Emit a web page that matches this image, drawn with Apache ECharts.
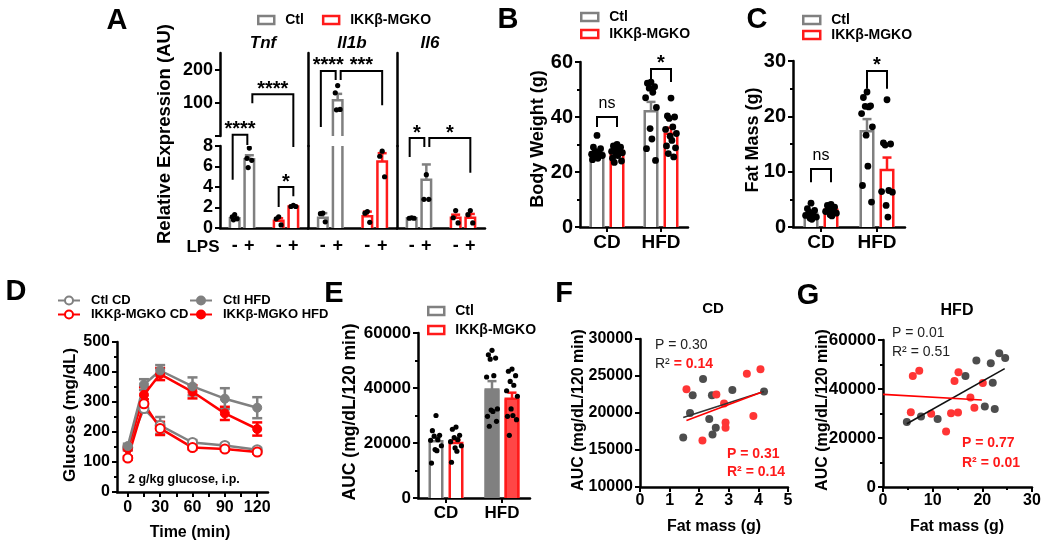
<!DOCTYPE html>
<html><head><meta charset="utf-8">
<script src="https://cdn.jsdelivr.net/npm/echarts@6/dist/echarts.min.js"></script>
<style>html,body{margin:0;padding:0;background:#fff}#c{width:1050px;height:545px}</style>
</head><body><div id="c"></div>
<script>
// ================= DATA =================
// Panel A (positions on LPS axis: Ctl -> 1,2 ; KO -> 4,5)
const lpsLabels = ['', '-', '+', '', '-', '+', ''];
const ctlPos = [1, 2], koPos = [4, 5];
const tnfCtlMean = [0.95, 6.7], tnfCtlSem = [0.12, 0.4];
const tnfKoMean = [0.7, 2.1], tnfKoSem = [0.25, 0.08];
const tnfCtlDots = [[1.3, 1.1, 0.9, 0.8], [7.8, 6.8, 6.6, 5.9]];
const tnfKoDots = [[1.1, 0.9, 0.3], [2.2, 2.1, 2.1]];
const il1bCtlMean = [1.0, 108], il1bCtlSem = [0.45, 19];
const il1bKoMean = [1.15, 6.5], il1bKoSem = [0.45, 0.8];
const il1bCtlDots = [[1.45, 1.4, 0.6], [152, 130, 80, 79]];
const il1bKoDots = [[1.6, 1.45, 0.55], [7.5, 7.0, 5.0]];
const il6CtlMean = [0.95, 4.7], il6CtlSem = [0.05, 1.5];
const il6KoMean = [1.0, 1.0], il6KoSem = [0.3, 0.37];
const il6CtlDots = [[1.0, 0.95, 0.95], [5.2, 2.8, 2.8]];
const il6KoDots = [[1.7, 1.0, 0.5], [1.7, 1.3, 0.5]];
// significance brackets: [leftPos, rightPos, top, leftEnd, rightEnd]
const tnfBrLow = [[1, 2, 9.1, 4.7, 8.1], [4, 5, 4.0, 2.05, 3.1]], tnfStarsLow = ['****', '*'];
const tnfBrUp = [[2, 5, 126, 99, -33]], tnfStarsUp = ['****'];
const il1bBrUp = [[1, 2, 196, 27, 169], [2, 5, 196, 169, 93]], il1bStarsUp = ['****', '***'];
const il6BrLow = [[1, 2, 8.78, 6.93, 7.9], [2, 5, 8.78, 7.9, 5.4]], il6StarsLow = ['*', '*'];

// Panel B: body weight
const dietCats = ['CD', 'HFD'];
const bwCtlMean = [27.0, 42.1], bwCtlSem = [1.0, 3.4];
const bwKoMean = [27.6, 33.9], bwKoSem = [0.8, 2.2];
const bwCtlDots = [[33.3, 29.0, 28.5, 27.5, 27.0, 26.5, 26.0, 25.5, 25.0, 24.5],
                   [52.7, 52.3, 51.0, 50.5, 49.0, 47.0, 43.5, 35.8, 32.0, 28.5, 24.2]];
const bwKoDots = [[30.0, 29.5, 29.0, 28.5, 28.0, 27.5, 27.0, 26.5, 26.0, 25.0, 24.0, 23.5],
                  [46.9, 40.4, 40.0, 39.5, 36.4, 35.5, 34.0, 33.0, 31.5, 29.5, 28.8, 26.7, 25.5]];
const bwBr = [[0, 40, 36.4, 36.4], [1, 57.5, 52.7, 52.7]], bwBrLab = ['ns', '*'];

// Panel C: fat mass
const fmCtlMean = [2.4, 17.3], fmCtlSem = [0.4, 2.2];
const fmKoMean = [3.1, 10.3], fmKoSem = [0.35, 2.25];
const fmCtlDots = [[4.3, 3.3, 3.0, 2.7, 2.4, 2.1, 1.8, 1.6, 1.4],
                   [24.4, 23.4, 21.9, 21.8, 21.7, 20.5, 18.1, 16.6, 11.0, 7.5, 4.5]];
const fmKoDots = [[4.1, 3.9, 3.6, 3.3, 3.1, 2.8, 2.5, 2.2, 2.0],
                  [23.0, 15.2, 15.0, 14.8, 6.6, 6.4, 6.3, 3.9, 1.8]];
const fmBr = [[0, 10.5, 8.1, 8.1], [1, 28.2, 25.0, 25.0]], fmBrLab = ['ns', '*'];

// Panel D: GTT
const gttTimes = [0, 15, 30, 60, 90, 120];
const ctlCd = [148, 278, 222, 165, 155, 141], ctlCdSem = [8, 12, 28, 8, 6, 6];
const koCd = [113, 294, 212, 148, 143, 133], koCdSem = [6, 15, 22, 6, 6, 5];
const ctlHfd = [153, 358, 405, 352, 311, 281], ctlHfdSem = [8, 18, 18, 30, 35, 35];
const koHfd = [145, 324, 393, 334, 262, 210], koHfdSem = [6, 25, 20, 22, 22, 22];

// Panel E: AUC
const aucCtlMean = [20600, 39500], aucCtlSem = [1400, 3000];
const aucKoMean = [20000, 36100], aucKoSem = [1100, 2200];
const aucCtlDots = [[30000, 24500, 22800, 22500, 21200, 21000, 19000, 17600, 17200, 12700],
                    [53700, 52100, 50900, 50500, 44500, 44000, 32400, 32000, 31500, 29700, 27900, 26100]];
const aucKoDots = [[25800, 25000, 22800, 22000, 21200, 20500, 19000, 18200, 17000, 13000],
                   [46900, 46100, 44500, 42400, 41000, 39000, 37000, 32400, 30000, 29700, 28500, 22800]];

// Panel F: CD correlation
const fCtlX = [1.46, 1.69, 1.78, 2.13, 2.34, 2.43, 2.45, 2.56, 3.12, 4.19];
const fCtlY = [16700, 20000, 22400, 24600, 19200, 22400, 17100, 18000, 23100, 22900];
const fKoX = [1.57, 2.11, 2.58, 2.84, 2.89, 2.89, 3.61, 3.83, 4.07];
const fKoY = [23200, 16300, 22500, 21300, 18700, 18000, 25300, 19600, 25900];
const fCtlFit = [[1.46, 19400], [4.19, 22900]];
const fKoFit = [[1.57, 19000], [4.1, 22800]];

// Panel G: HFD correlation
const gCtlX = [4.8, 7.65, 11.0, 16.6, 18.8, 20.5, 21.7, 22.1, 22.5, 23.4, 24.6];
const gCtlY = [26500, 28800, 27800, 45300, 51600, 32900, 50500, 42600, 31800, 54600, 52700];
const gKoX = [5.6, 6.0, 7.3, 9.7, 12.7, 13.7, 14.4, 15.1, 15.2, 17.6, 18.4, 20.1];
const gKoY = [30500, 45300, 47500, 29900, 22700, 30100, 43300, 30400, 46800, 36500, 32300, 42400];
const gCtlFit = [[4.8, 25800], [24.5, 48300]];
const gKoFit = [[0, 37800], [19.9, 35500]];

// ================= STYLE =================
const FF = 'Liberation Sans';
const FCSS = '"Liberation Sans", Arial, sans-serif';
const GRAY = '#808080', RED = '#ff1a1a', FILLRED = '#ff4646';
const DOTG = '#4d4d4d', DOTR = '#ff3535';
const SIDE = 10;
const JIT = [0, -0.6, 0.6, -0.3, 0.3, -0.9, 0.9, -0.15, 0.15, -0.75, 0.75, -0.45, 0.45];
const A_LOW_MAX = 8;

function barRender(color, fillFn, barW, capW) {
  return function (params, api) {
    const cat = api.value(0), mean = api.value(1), sem = api.value(2), side = api.value(3);
    const base = api.coord([cat, 0]);
    const top = api.coord([cat, mean]);
    const et = api.coord([cat, mean + sem]);
    const x = top[0] + side * SIDE, h = barW / 2, lw = 2.5;
    const fill = fillFn(cat);
    return { type: 'group', children: [
      { type: 'rect', shape: { x: x - h, y: top[1], width: barW, height: base[1] - top[1] }, style: { fill: fill, stroke: null } },
      { type: 'line', shape: { x1: x, y1: top[1], x2: x, y2: et[1] }, style: { stroke: color, lineWidth: lw } },
      { type: 'line', shape: { x1: x - capW / 2, y1: et[1], x2: x + capW / 2, y2: et[1] }, style: { stroke: color, lineWidth: lw } },
      { type: 'polyline', shape: { points: [[x - h + lw / 2, base[1]], [x - h + lw / 2, top[1]], [x + h - lw / 2, top[1]], [x + h - lw / 2, base[1]]] }, style: { stroke: color, lineWidth: lw, fill: null } }
    ] };
  };
}
function dotRender(color, r, spread) {
  return function (params, api) {
    const c = api.coord([api.value(0), api.value(1)]);
    const x = c[0] + api.value(2) * SIDE + JIT[api.value(3) % JIT.length] * spread;
    return { type: 'circle', shape: { cx: x, cy: c[1], r: r }, style: { fill: color } };
  };
}
function bracketRender(labels) {
  return function (params, api) {
    const xl = api.value(0), xr = api.value(1), yt = api.value(2), yl = api.value(3), yr = api.value(4);
    const sl = api.value(5), sr = api.value(6);
    const pL = api.coord([xl, yt]), pR = api.coord([xr, yt]);
    let nl = 0, nr = 0;
    if (sl === 0) { if (xl === 2) nl = 3; if (xr === 2) nr = -2; if (xl === 1) nl = -2; }
    const x1 = pL[0] + sl * SIDE + nl, x2 = pR[0] + sr * SIDE + nr;
    const y0 = pL[1], y1 = api.coord([xl, yl])[1], y2 = api.coord([xr, yr])[1];
    const lab = labels[params.dataIndex];
    const star = lab[0] === '*';
    return { type: 'group', children: [
      { type: 'polyline', shape: { points: [[x1, y1], [x1, y0], [x2, y0], [x2, y2]] }, style: { stroke: '#000', lineWidth: 2, fill: null } },
      { type: 'text', x: (x1 + x2) / 2, y: star ? y0 + 5 : y0 - 5,
        style: { text: lab, fill: '#000', font: star ? 'bold 20px ' + FCSS : '16px ' + FCSS, align: 'center', verticalAlign: 'bottom', textAlign: 'center', textVerticalAlign: 'bottom' } }
    ] };
  };
}
function errRender(color) {
  return function (params, api) {
    const t = api.value(0), m = api.value(1), s = api.value(2);
    const a = api.coord([t, m + s]), b = api.coord([t, m - s]);
    const w = 5;
    return { type: 'group', children: [
      { type: 'line', shape: { x1: a[0], y1: a[1], x2: b[0], y2: b[1] }, style: { stroke: color, lineWidth: 2.5 } },
      { type: 'line', shape: { x1: a[0] - w, y1: a[1], x2: a[0] + w, y2: a[1] }, style: { stroke: color, lineWidth: 2.5 } },
      { type: 'line', shape: { x1: b[0] - w, y1: b[1], x2: b[0] + w, y2: b[1] }, style: { stroke: color, lineWidth: 2.5 } }
    ] };
  };
}

const series = [];
function addBars(name, grid, pos, means, sems, side, color, fillFn, barW, filterFn) {
  const data = [];
  means.forEach((m, i) => { if (!filterFn || filterFn(m)) data.push([pos[i], m, sems[i], side]); });
  if (!data.length) return;
  series.push({ type: 'custom', name: name, xAxisIndex: grid, yAxisIndex: grid, clip: true, z: 2, silent: true,
    renderItem: barRender(color, fillFn, barW, 9), data: data });
}
function addDots(name, grid, pos, dots, side, r, spread, filterFn) {
  const data = [];
  dots.forEach((arr, i) => arr.forEach((v, k) => { if (!filterFn || filterFn(v)) data.push([pos[i], v, side, k]); }));
  if (!data.length) return;
  series.push({ type: 'custom', name: name, xAxisIndex: grid, yAxisIndex: grid, clip: true, z: 4, silent: true,
    renderItem: dotRender('#000', r, spread), data: data });
}
function addBrackets(grid, br, labels) {
  series.push({ type: 'custom', xAxisIndex: grid, yAxisIndex: grid, clip: false, z: 5, silent: true,
    renderItem: bracketRender(labels), data: br });
}
const white = () => '#fff';

// ---- Panel A
const genes = [
  { low: 0, up: 1, cm: tnfCtlMean, cs: tnfCtlSem, km: tnfKoMean, ks: tnfKoSem, cd: tnfCtlDots, kd: tnfKoDots },
  { low: 2, up: 3, cm: il1bCtlMean, cs: il1bCtlSem, km: il1bKoMean, ks: il1bKoSem, cd: il1bCtlDots, kd: il1bKoDots },
  { low: 4, up: 5, cm: il6CtlMean, cs: il6CtlSem, km: il6KoMean, ks: il6KoSem, cd: il6CtlDots, kd: il6KoDots }
];
const high = v => v > A_LOW_MAX;
genes.forEach(g => {
  addBars('Ctl', g.low, ctlPos, g.cm, g.cs, 0, GRAY, white, 12);
  addBars('IKKβ-MGKO', g.low, koPos, g.km, g.ks, 0, RED, white, 12);
  addBars('Ctl', g.up, ctlPos, g.cm, g.cs, 0, GRAY, white, 12, high);
  addBars('IKKβ-MGKO', g.up, koPos, g.km, g.ks, 0, RED, white, 12, high);
  addDots('Ctl', g.low, ctlPos, g.cd, 0, 2.6, 4);
  addDots('IKKβ-MGKO', g.low, koPos, g.kd, 0, 2.6, 4);
  addDots('Ctl', g.up, ctlPos, g.cd, 0, 2.6, 4, high);
  addDots('IKKβ-MGKO', g.up, koPos, g.kd, 0, 2.6, 4, high);
});
const side7 = b => b.map(r => r.concat([0, 0]));
addBrackets(0, side7(tnfBrLow), tnfStarsLow);
addBrackets(1, side7(tnfBrUp), tnfStarsUp);
addBrackets(3, side7(il1bBrUp), il1bStarsUp);
addBrackets(4, side7(il6BrLow), il6StarsLow);

// ---- Panels B, C, E
const twoCat = [0, 1];
const pairBr = b => b.map(r => [r[0], r[0], r[1], r[2], r[3], -1, 1]);
addBars('Ctl', 6, twoCat, bwCtlMean, bwCtlSem, -1, GRAY, white, 15);
addBars('IKKβ-MGKO', 6, twoCat, bwKoMean, bwKoSem, 1, RED, white, 15);
addDots('Ctl', 6, twoCat, bwCtlDots, -1, 3.4, 6);
addDots('IKKβ-MGKO', 6, twoCat, bwKoDots, 1, 3.4, 6);
addBrackets(6, pairBr(bwBr), bwBrLab);

addBars('Ctl', 7, twoCat, fmCtlMean, fmCtlSem, -1, GRAY, white, 15);
addBars('IKKβ-MGKO', 7, twoCat, fmKoMean, fmKoSem, 1, RED, white, 15);
addDots('Ctl', 7, twoCat, fmCtlDots, -1, 3.4, 6);
addDots('IKKβ-MGKO', 7, twoCat, fmKoDots, 1, 3.4, 6);
addBrackets(7, pairBr(fmBr), fmBrLab);

addBars('Ctl', 9, twoCat, aucCtlMean, aucCtlSem, -1, GRAY, c => c === 1 ? GRAY : '#fff', 15);
addBars('IKKβ-MGKO', 9, twoCat, aucKoMean, aucKoSem, 1, RED, c => c === 1 ? FILLRED : '#fff', 15);
addDots('Ctl', 9, twoCat, aucCtlDots, -1, 2.6, 6);
addDots('IKKβ-MGKO', 9, twoCat, aucKoDots, 1, 2.6, 6);

// ---- Panel D
function gttLine(name, vals, sems, color, open) {
  series.push({ type: 'custom', xAxisIndex: 8, yAxisIndex: 8, z: 2, silent: true, renderItem: errRender(color),
    data: gttTimes.map((t, i) => [t, vals[i], sems[i]]) });
  series.push({ type: 'line', name: name, xAxisIndex: 8, yAxisIndex: 8, z: 3, silent: true,
    data: gttTimes.map((t, i) => [t, vals[i]]),
    symbol: 'circle', symbolSize: 9,
    lineStyle: { color: color, width: 2.5 },
    itemStyle: open ? { color: '#fff', borderColor: color, borderWidth: 2 } : { color: color, borderColor: color, borderWidth: 1 } });
}
gttLine('Ctl CD', ctlCd, ctlCdSem, GRAY, true);
gttLine('IKKβ-MGKO CD', koCd, koCdSem, '#ff0000', true);
gttLine('IKKβ-MGKO HFD', koHfd, koHfdSem, '#ff0000', false);
gttLine('Ctl HFD', ctlHfd, ctlHfdSem, GRAY, false);

// ---- Panels F, G
function scat(grid, xs, ys, color) {
  series.push({ type: 'scatter', xAxisIndex: grid, yAxisIndex: grid, symbolSize: 8, silent: true, z: 3,
    itemStyle: { color: color, opacity: 1 }, data: xs.map((x, i) => [x, ys[i]]) });
}
function fit(grid, pts, color) {
  series.push({ type: 'line', xAxisIndex: grid, yAxisIndex: grid, symbol: 'none', silent: true, z: 4,
    lineStyle: { color: color, width: 1.6 }, data: pts });
}
scat(10, fCtlX, fCtlY, DOTG); scat(10, fKoX, fKoY, DOTR);
fit(10, fCtlFit, '#333'); fit(10, fKoFit, '#ff0000');
scat(11, gCtlX, gCtlY, DOTG); scat(11, gKoX, gKoY, DOTR);
fit(11, gCtlFit, '#111'); fit(11, gKoFit, '#ff0000');

// ================= AXES =================
const grids = [
  { left: 220, top: 146, width: 88, height: 82 },
  { left: 220, top: 53, width: 88, height: 83 },
  { left: 308, top: 146, width: 89, height: 82 },
  { left: 308, top: 53, width: 89, height: 93 },
  { left: 397, top: 146, width: 88, height: 82 },
  { left: 397, top: 53, width: 88, height: 93 },
  { left: 580, top: 62, width: 108, height: 165 },
  { left: 793, top: 61, width: 112, height: 166 },
  { left: 117, top: 342, width: 151, height: 150 },
  { left: 418, top: 333, width: 112, height: 165 },
  { left: 640, top: 339, width: 148, height: 148 },
  { left: 883, top: 340, width: 149, height: 147 }
];
const LINE = { show: true, onZero: false, lineStyle: { color: '#000', width: 2.5 } };
const TICK = { show: true, length: 5, lineStyle: { color: '#000', width: 2 } };
const MINOR = { show: true, splitNumber: 2, length: 3, lineStyle: { color: '#000', width: 2 } };
const plain = v => String(v);
function lab(size, margin, extra) {
  return Object.assign({ color: '#000', fontFamily: FF, fontWeight: 'bold', fontSize: size, margin: margin }, extra || {});
}
function yv(grid, min, max, interval, size, opt) {
  opt = opt || {};
  return { type: 'value', gridIndex: grid, min: min, max: max, interval: interval,
    axisLine: LINE, axisTick: opt.noTick ? { show: false } : TICK,
    minorTick: opt.minor ? MINOR : { show: false },
    axisLabel: opt.noLabel ? { show: false } : lab(size, 7, { formatter: opt.fmt || plain }),
    splitLine: { show: false } };
}
function xcat(grid, data, size, margin, opt) {
  opt = opt || {};
  return { type: 'category', gridIndex: grid, data: data, boundaryGap: !opt.noGap, show: !opt.hide,
    axisLine: LINE, axisTick: opt.tick ? { show: true, alignWithLabel: true, length: 5, lineStyle: { color: '#000', width: 2 } } : { show: false },
    axisLabel: lab(size, margin, { interval: 0 }), splitLine: { show: false } };
}
function xv(grid, min, max, interval, size, margin, opt) {
  opt = opt || {};
  const a = { type: 'value', gridIndex: grid, min: min, max: max, interval: interval,
    axisLine: LINE, axisTick: TICK, minorTick: opt.minor ? MINOR : { show: false },
    axisLabel: lab(size, margin, { formatter: plain }), splitLine: { show: false } };
  if (opt.ticks) a.axisTick = Object.assign({}, TICK, { customValues: opt.ticks });
  if (opt.labels) a.axisLabel = lab(size, margin, { customValues: opt.labels, formatter: plain });
  return a;
}
const xAxes = [
  xcat(0, lpsLabels, 18, 9, { noGap: true }), xcat(1, lpsLabels, 18, 9, { noGap: true, hide: true }),
  xcat(2, lpsLabels, 18, 9, { noGap: true }), xcat(3, lpsLabels, 18, 9, { noGap: true, hide: true }),
  xcat(4, lpsLabels, 18, 9, { noGap: true }), xcat(5, lpsLabels, 18, 9, { noGap: true, hide: true }),
  xcat(6, dietCats, 19, 6, { tick: true }),
  xcat(7, dietCats, 19, 6, { tick: true }),
  xv(8, -10, 130, 30, 16, 8, { ticks: [0, 15, 30, 45, 60, 75, 90, 105, 120], labels: [0, 30, 60, 90, 120] }),
  xcat(9, dietCats, 17, 7, { tick: true }),
  xv(10, 0, 5, 1, 16, 6),
  xv(11, 0, 30, 10, 16, 6, { minor: true })
];
const yAxes = [
  yv(0, 0, 8, 2, 18),
  yv(1, 0, 250, 100, 18, { fmt: v => v === 0 ? '' : String(v) }),
  yv(2, 0, 8, 2, 18, { noTick: true, noLabel: true }),
  yv(3, -30, 250, 100, 18, { noTick: true, noLabel: true }),
  yv(4, 0, 8, 2, 18, { noTick: true, noLabel: true }),
  yv(5, -30, 250, 100, 18, { noTick: true, noLabel: true }),
  yv(6, 0, 60, 20, 20, { minor: true }),
  yv(7, 0, 30, 10, 20, { minor: true }),
  yv(8, 0, 500, 100, 16, { minor: true }),
  yv(9, 0, 60000, 20000, 17, { minor: true }),
  yv(10, 10000, 30000, 5000, 16),
  yv(11, 0, 60000, 20000, 17, { minor: true })
];

// ================= LEGENDS =================
const boxItem = (name, color) => ({ name: name, icon: 'rect', itemStyle: { color: '#fff', borderColor: color, borderWidth: 2.5 } });
const legTxt = (size) => ({ fontSize: size, fontWeight: 'bold', fontFamily: FF, color: '#000', padding: [0, 0, 0, 6] });
const legends = [
  { left: 257, top: 13, orient: 'horizontal', padding: 0, itemWidth: 16, itemHeight: 8, itemGap: 18, selectedMode: false,
    textStyle: legTxt(14), data: [boxItem('Ctl', GRAY), boxItem('IKKβ-MGKO', RED)] },
  { left: 580, top: 10, orient: 'vertical', padding: 0, itemWidth: 17, itemHeight: 8, itemGap: 3, selectedMode: false,
    textStyle: legTxt(14), data: [boxItem('Ctl', GRAY), boxItem('IKKβ-MGKO', RED)] },
  { left: 802, top: 13, orient: 'vertical', padding: 0, itemWidth: 17, itemHeight: 8, itemGap: 1, selectedMode: false,
    textStyle: legTxt(14), data: [boxItem('Ctl', GRAY), boxItem('IKKβ-MGKO', RED)] },
  { left: 427, top: 304, orient: 'vertical', padding: 0, itemWidth: 16, itemHeight: 8, itemGap: 5, selectedMode: false,
    textStyle: legTxt(14), data: [boxItem('Ctl', GRAY), boxItem('IKKβ-MGKO', RED)] },
  { left: 57, top: 294, orient: 'vertical', padding: 0, itemWidth: 22, itemHeight: 10, itemGap: 1, selectedMode: false,
    textStyle: legTxt(13), data: ['Ctl CD', 'IKKβ-MGKO CD'] },
  { left: 189, top: 294, orient: 'vertical', padding: 0, itemWidth: 22, itemHeight: 10, itemGap: 1, selectedMode: false,
    textStyle: legTxt(13), data: ['Ctl HFD', 'IKKβ-MGKO HFD'] }
];

// ================= TEXT =================
function T(text, x, y, size, o) {
  o = o || {};
  const font = (o.italic ? 'italic ' : '') + (o.weight || 'bold') + ' ' + size + 'px ' + FCSS;
  const st = { text: text, fill: o.color || '#000', font: font, align: o.align || 'center', verticalAlign: 'middle',
    textAlign: o.align || 'center', textVerticalAlign: 'middle' };
  if (o.rich) st.rich = o.rich;
  return { type: 'text', x: x, y: y, rotation: o.rot || 0, z: 100, silent: true, style: st };
}
const R90 = Math.PI / 2;
const richR2 = (c1, c2, w2) => ({
  d: { fill: c1, color: c1, fontSize: 14, fontFamily: FF, fontWeight: 'normal' },
  r: { fill: c2, color: c2, fontSize: 14, fontFamily: FF, fontWeight: w2 }
});
const texts = [
  T('A', 117, 21, 29), T('B', 508, 20, 29), T('C', 757, 20, 29),
  T('D', 16, 292, 29), T('E', 334, 294, 29), T('F', 564, 294, 29), T('G', 808, 296, 29),
  T('Tnf', 263, 43, 17, { italic: true }), T('Il1b', 352, 43, 17, { italic: true }), T('Il6', 430, 43, 17, { italic: true }),
  T('LPS', 203, 247, 17),
  T('Relative Expression (AU)', 165, 134, 18.5, { rot: R90 }),
  T('Body Weight (g)', 538, 139, 18, { rot: R90 }),
  T('Fat Mass (g)', 753, 140, 18, { rot: R90 }),
  T('Glucose (mg/dL)', 70, 415, 17, { rot: R90 }),
  T('Time (min)', 190, 533, 16),
  T('2 g/kg glucose, i.p.', 128, 480, 12.5, { align: 'left' }),
  T('AUC (mg/dL/120 min)', 350, 412, 17.5, { rot: R90 }),
  T('AUC (mg/dL/120 min)', 579, 410, 16, { rot: R90 }),
  T('AUC (mg/dL/120 min)', 823, 410, 16, { rot: R90 }),
  T('Fat mass (g)', 714, 527, 16), T('Fat mass (g)', 957, 527, 16),
  T('CD', 713, 309, 15), T('HFD', 957, 311, 16),
  T('P = 0.30', 655, 345, 14, { align: 'left', weight: 'normal', color: '#222' }),
  T('{d|R²}{r| = 0.14}', 655, 364, 14, { align: 'left', rich: richR2('#222', '#ff1a1a', 'bold') }),
  T('P = 0.31', 727, 454, 14, { align: 'left', color: '#ff1a1a' }),
  T('R² = 0.14', 727, 472, 14, { align: 'left', color: '#ff1a1a' }),
  T('P = 0.01', 892, 333, 14, { align: 'left', weight: 'normal', color: '#222' }),
  T('R² = 0.51', 892, 352, 14, { align: 'left', weight: 'normal', color: '#222' }),
  T('P = 0.77', 962, 443, 14, { align: 'left', color: '#ff1a1a' }),
  T('R² = 0.01', 962, 463, 14, { align: 'left', color: '#ff1a1a' })
];

const chart = echarts.init(document.getElementById('c'), null, { renderer: 'canvas' });
chart.setOption({
  animation: false,
  backgroundColor: '#fff',
  textStyle: { fontFamily: FF },
  grid: grids,
  xAxis: xAxes,
  yAxis: yAxes,
  legend: legends,
  graphic: { elements: texts },
  series: series
});
</script>
</body></html>
